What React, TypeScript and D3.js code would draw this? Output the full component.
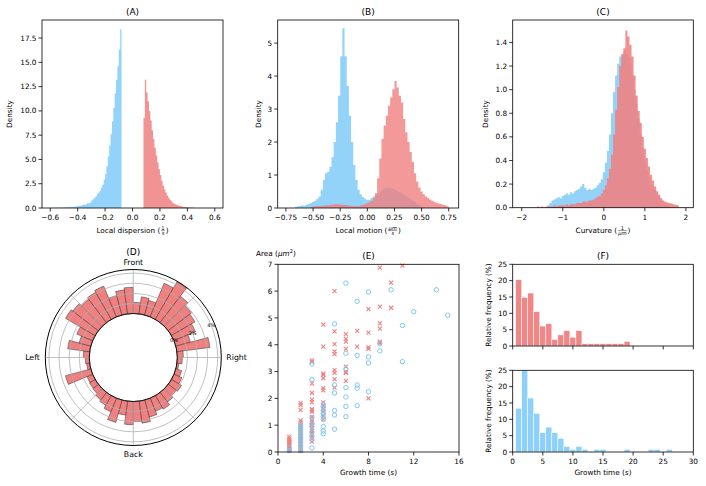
import React from "react";
import * as d3 from "d3";

const FONT = "'DejaVu Sans', sans-serif";
const RED = "#F08080";
const BLUE = "#87CEFA";
const FS = 7.3;

// ---------- Panel A : local dispersion ----------
const aBinWidth = 0.01;
const aBlueStart = -0.6;
const aBlue = [
  0.02, 0.0, 0.03, 0.02, 0.04, 0.03, 0.05, 0.04, 0.06, 0.05,
  0.07, 0.08, 0.07, 0.1, 0.09, 0.12, 0.11, 0.15, 0.14, 0.18,
  0.2, 0.24, 0.22, 0.3, 0.35, 0.33, 0.42, 0.48, 0.46, 0.58,
  0.8, 0.9, 1.05, 1.2, 1.45, 1.6, 1.8, 2.1, 2.4, 2.9,
  3.5, 4.3, 5.3, 6.4, 7.6, 8.9, 10.3, 11.8, 13.2, 14.6,
  16.3, 18.4,
];
const aRedStart = 0.08;
const aRed = [
  9.3, 13.2, 11.9, 11.0, 10.0, 9.0, 8.0, 7.1, 6.2, 5.4,
  4.7, 4.0, 3.4, 2.8, 2.3, 1.9, 1.6, 1.3, 1.05, 0.85,
  0.7, 0.55, 0.45, 0.38, 0.32, 0.26, 0.22, 0.18, 0.15, 0.12,
  0.1, 0.09, 0.07, 0.06, 0.05, 0.04, 0.03,
];
const aXTicks = [-0.6, -0.4, -0.2, 0, 0.2, 0.4, 0.6];
const aYTicks = [0, 2.5, 5, 7.5, 10, 12.5, 15, 17.5];

// ---------- Panel B : local motion ----------
const bBinWidth = 0.02;
const bBlueStart = -0.67;
const bBlue = [
  0.03, 0.05, 0.06, 0.08, 0.07, 0.1, 0.12, 0.15, 0.18, 0.22,
  0.28, 0.35, 0.55, 0.85, 1.05, 1.1, 1.25, 1.55, 2.0, 2.6,
  3.4, 4.6, 5.45, 4.6, 3.7, 2.8, 2.0, 1.3, 0.85, 0.55,
  0.42, 0.33, 0.28, 0.24, 0.25, 0.3, 0.35, 0.4, 0.45, 0.5,
  0.55, 0.6, 0.6, 0.62, 0.6, 0.58, 0.55, 0.5, 0.48, 0.45,
  0.4, 0.35, 0.32, 0.28, 0.22, 0.18, 0.12, 0.08, 0.05, 0.03,
];
const bRedStart = -0.53;
const bRed = [
  0.02, 0.04, 0.05, 0.05, 0.06, 0.06, 0.07, 0.08, 0.08, 0.1,
  0.1, 0.12, 0.12, 0.11, 0.1, 0.1, 0.09, 0.08, 0.07, 0.06,
  0.06, 0.05, 0.05, 0.08, 0.1, 0.12, 0.15, 0.18, 0.22, 0.3,
  0.45, 0.9, 1.5, 2.1, 2.5, 2.8, 3.1, 3.35, 3.6, 3.85,
  3.65, 3.4, 3.2, 2.7, 2.3, 2.0, 1.7, 1.4, 1.05, 0.8,
  0.62, 0.5, 0.42, 0.35, 0.3, 0.26, 0.22, 0.18, 0.15, 0.14,
  0.12, 0.1, 0.08, 0.05,
];
const bXTicks = [-0.75, -0.5, -0.25, 0, 0.25, 0.5, 0.75];
const bYTicks = [0, 1, 2, 3, 4, 5];

// ---------- Panel C : curvature ----------
const cBinWidth = 0.05;
const cBlueStart = -1.375;
const cBlue = [
  0.02, 0.04, 0.06, 0.07, 0.08, 0.09, 0.08, 0.1, 0.11, 0.12,
  0.11, 0.13, 0.12, 0.14, 0.15, 0.16, 0.18, 0.2, 0.17, 0.15,
  0.16, 0.15, 0.16, 0.17, 0.19, 0.21, 0.24, 0.3, 0.38, 0.48,
  0.62, 0.8, 0.98, 1.12, 1.22, 1.28, 1.3, 1.32, 1.3, 1.28,
  1.22, 1.12, 1.0, 0.88, 0.75, 0.62, 0.5, 0.4, 0.32, 0.26,
  0.2, 0.17, 0.15, 0.12, 0.09, 0.06, 0.04, 0.03, 0.02, 0.01,
];
const cRedStart = -1.625;
const cRed = [
  0.01, 0.0, 0.01, 0.0, 0.01, 0.01, 0.01, 0.01, 0.02, 0.01,
  0.02, 0.02, 0.02, 0.02, 0.03, 0.02, 0.03, 0.03, 0.03, 0.04,
  0.04, 0.04, 0.05, 0.05, 0.05, 0.06, 0.06, 0.07, 0.08, 0.09,
  0.1, 0.12, 0.15, 0.19, 0.25, 0.33, 0.45, 0.62, 0.83, 1.02,
  1.2, 1.3, 1.35, 1.5, 1.45, 1.38, 1.28, 1.12, 0.95, 0.82,
  0.72, 0.6, 0.5, 0.42, 0.35, 0.28, 0.23, 0.18, 0.14, 0.11,
  0.08, 0.06, 0.05, 0.045, 0.04, 0.035, 0.03, 0.025, 0.02,
];
const cXTicks = [-2, -1, 0, 1, 2];
const cYTicks = [0, 0.2, 0.4, 0.6, 0.8, 1.0, 1.2, 1.4];

// ---------- Panel D : direction (percent per 7.5° sector, clockwise from Front) ----------
const dSectorPercent = [
  1.1, 1.7, 1.5, 3.6, 4.3, 3.3, 2.9, 2.7, 2.3, 1.5, 3.3, 0.6,
  0.5, 0.2, 0.6, 0.85, 1.15, 1.0, 1.2, 1.55, 1.4, 1.75, 2.2, 2.0,
  2.3, 1.4, 2.3, 1.45, 1.1, 0.9, 0.7, 0.65, 0.6, 2.6, 0.3, 0.4,
  0.6, 2.2, 1.2, 1.7, 3.4, 3.2, 2.9, 3.1, 3.3, 2.0, 2.4, 2.6,
];
const dRingTicks = [0, 1, 2, 3, 4];
const dRingLabels = ["0%", "", "2%", "", "4%"];
const dDirections = ["Front", "Right", "Back", "Left"];

// ---------- Panel E : area vs growth time ----------
const eRed: [number, number][] = [
  [1, 0.05], [1, 0.1], [1, 0.15], [1, 0.2], [1, 0.25], [1, 0.3], [1, 0.35], [1, 0.4], [1, 0.45], [1, 0.5], [1, 0.57],
  [2, 0.05], [2, 0.12], [2, 0.2], [2, 0.28], [2, 0.35], [2, 0.42], [2, 0.5], [2, 0.58], [2, 0.65], [2, 0.72],
  [2, 0.8], [2, 0.88], [2, 0.95], [2, 1.02], [2, 1.1], [2, 1.18], [2, 1.57], [2, 1.75], [2, 1.82],
  [3, 0.38], [3, 0.5], [3, 0.6], [3, 0.7], [3, 0.8], [3, 0.9], [3, 1.0], [3, 1.1], [3, 1.2], [3, 1.3],
  [3, 1.5], [3, 1.55], [3, 1.6], [3, 1.85], [3, 1.95], [3, 2.2], [3, 2.55], [3, 3.35], [3, 3.42],
  [4, 1.22], [4, 1.35], [4, 1.5], [4, 1.62], [4, 1.72], [4, 1.85], [4, 2.3], [4, 2.38], [4, 2.75], [4, 2.88],
  [4, 2.92], [4, 3.93], [4, 4.75],
  [5, 2.4], [5, 2.72], [5, 2.95], [5, 3.05], [5, 3.65], [5, 3.75], [5, 4.02], [5, 4.5], [5, 6.0],
  [6, 2.65], [6, 2.95], [6, 3.0], [6, 3.18], [6, 3.85], [6, 4.12], [6, 4.22], [6, 4.4],
  [7, 3.93], [7, 4.52],
  [8, 2.0], [8, 3.85], [8, 3.9], [8, 4.45], [8, 5.33],
  [9, 4.05], [9, 4.12], [9, 4.6], [9, 4.8], [9, 5.42], [9, 6.88],
  [10, 5.38], [10, 6.32],
  [11, 6.95],
];
const eBlue: [number, number][] = [
  [1, 0.05], [1, 0.15],
  [2, 0.05], [2, 0.15], [2, 0.25], [2, 0.35], [2, 0.45], [2, 0.55], [2, 0.65], [2, 0.75], [2, 0.85], [2, 0.92], [2, 1.0],
  [3, 0.15], [3, 0.45], [3, 0.6], [3, 0.75], [3, 0.95], [3, 1.05], [3, 1.28], [3, 2.7], [3, 3.28],
  [4, 0.68], [4, 0.78], [4, 0.95], [4, 1.22], [4, 1.32], [4, 1.45], [4, 1.55], [4, 1.68], [4, 1.78],
  [5, 0.85], [5, 1.38], [5, 1.55], [5, 2.2], [5, 2.5], [5, 4.78],
  [6, 1.32], [6, 1.7], [6, 2.05], [6, 2.4], [6, 3.1], [6, 3.68], [6, 6.3],
  [7, 1.73], [7, 2.38], [7, 2.5], [7, 3.6], [7, 5.62],
  [8, 2.25], [8, 3.32], [8, 3.55], [8, 5.97],
  [9, 3.77], [9, 4.05],
  [10, 6.05],
  [11, 3.37], [11, 4.72],
  [12, 5.23],
  [14, 6.05],
  [15, 5.1],
];
const eXTicks = [0, 4, 8, 12, 16];
const eYTicks = [0, 1, 2, 3, 4, 5, 6, 7];

// ---------- Panel F : growth time distributions ----------
const fBinStart = 0.5;
const fBinWidth = 1;
const fRed = [20.3, 14.9, 16.2, 10.5, 6.1, 6.8, 2.0, 3.4, 4.7, 2.7, 4.7, 0.7, 0.7, 0.7, 0.7, 0.7, 0.7, 0.7, 1.4];
const fBlue = [13.4, 25.0, 16.5, 11.8, 5.9, 7.6, 5.9, 4.2, 1.7, 0.8, 1.7, 0.8, 0, 0.8, 0.8, 0, 0, 0, 0.8, 0, 0, 0, 0.8, 0.8, 0, 0.8];
const fXTicks = [0, 5, 10, 15, 20, 25, 30];
const fYTicks = [0, 5, 10, 15, 20, 25];

// ---------- helpers ----------
let _ctx: CanvasRenderingContext2D | null = null;
function textW(s: string, size: number, italic = false) {
  if (!_ctx && typeof document !== "undefined") _ctx = document.createElement("canvas").getContext("2d");
  if (!_ctx) return s.length * size * 0.6;
  _ctx.font = `${italic ? "italic " : ""}${size}px 'DejaVu Sans'`;
  return _ctx.measureText(s).width;
}

type Scale = d3.ScaleLinear<number, number>;

function Axes({ x, y, xTicks, yTicks, fx, fy, xLabels = true }: any) {
  const [x0, x1] = (x as Scale).range();
  const [yb, yt] = (y as Scale).range();
  return (
    <g fontFamily={FONT} fontSize={FS} fill="#000">
      {xTicks.map((t: number) => (
        <g key={"x" + t}>
          <line x1={x(t)} x2={x(t)} y1={yb} y2={yb + 3.5} stroke="#000" strokeWidth={0.8} />
          {xLabels && (
            <text x={x(t)} y={yb + 12.3} textAnchor="middle">{fx(t)}</text>
          )}
        </g>
      ))}
      {yTicks.map((t: number) => (
        <g key={"y" + t}>
          <line x1={x0 - 3.5} x2={x0} y1={y(t)} y2={y(t)} stroke="#000" strokeWidth={0.8} />
          <text x={x0 - 5.5} y={y(t) + 2.6} textAnchor="end">{fy(t)}</text>
        </g>
      ))}
      <rect x={x0} y={yt} width={x1 - x0} height={yb - yt} fill="none" stroke="#000" strokeWidth={0.8} />
    </g>
  );
}

function HistPath({ values, start, width, x, y, fill, opacity }: any) {
  let d = "";
  values.forEach((v: number, i: number) => {
    if (v <= 0) return;
    const xa = x(start + i * width);
    const xb = x(start + (i + 1) * width);
    const ya = y(v);
    const yb = y(0);
    d += `M${xa},${yb}V${ya}H${xb}V${yb}Z`;
  });
  return <path d={d} fill={fill} fillOpacity={opacity} />;
}

function FracLabel({ cx, y, prefix, num, den, numItalic = false, denItalic = true }: any) {
  const small = 5.2;
  const w1 = textW(prefix + "(", FS);
  const wn = textW(num, small, numItalic);
  const wd = textW(den, small, denItalic);
  const wf = Math.max(wn, wd) + 2.2;
  const w3 = textW(")", FS);
  const x0 = cx - (w1 + wf + w3) / 2;
  const fc = x0 + w1 + wf / 2;
  return (
    <g fontFamily={FONT} fill="#000">
      <text x={x0} y={y} fontSize={FS}>{prefix + "("}</text>
      <text x={fc} y={y - 3.4} fontSize={small} textAnchor="middle" fontStyle={numItalic ? "italic" : "normal"}>{num}</text>
      <line x1={x0 + w1 + 0.8} x2={x0 + w1 + wf - 0.8} y1={y - 2.4} y2={y - 2.4} stroke="#000" strokeWidth={0.4} />
      <text x={fc} y={y + 2.4} fontSize={small} textAnchor="middle" fontStyle={denItalic ? "italic" : "normal"}>{den}</text>
      <text x={x0 + w1 + wf} y={y} fontSize={FS}>)</text>
    </g>
  );
}

function Title({ x, y, t }: any) {
  return <text x={x} y={y} fontFamily={FONT} fontSize={9} textAnchor="middle">{t}</text>;
}

function YLabel({ x, y, t }: any) {
  return (
    <text transform={`translate(${x},${y}) rotate(-90)`} fontFamily={FONT} fontSize={FS} textAnchor="middle">{t}</text>
  );
}

export default function App() {
  const f1 = d3.format(".1f");
  const f2 = d3.format(".2f");
  const fd = d3.format("d");

  // scales
  const ax = d3.scaleLinear().domain([-0.66, 0.66]).range([42, 223]);
  const ay = d3.scaleLinear().domain([0, 19.36]).range([208, 20]);
  const bx = d3.scaleLinear().domain([-0.826, 0.842]).range([277.7, 458.7]);
  const by = d3.scaleLinear().domain([0, 5.7]).range([208, 20]);
  const cx = d3.scaleLinear().domain([-2.22, 2.18]).range([512.7, 693.3]);
  const cy = d3.scaleLinear().domain([0, 1.59]).range([207.7, 20]);
  const ex = d3.scaleLinear().domain([0, 16]).range([278, 459]);
  const ey = d3.scaleLinear().domain([0, 7]).range([452, 264.3]);
  const fx = d3.scaleLinear().domain([0, 30]).range([512.7, 693.3]);
  const fyTop = d3.scaleLinear().domain([0, 25]).range([346, 264.3]);
  const fyBot = d3.scaleLinear().domain([0, 25]).range([452, 370.3]);

  // polar
  const pcx = 133.3, pcy = 357.5;
  const r = d3.scaleLinear().domain([0, 4.36]).range([44, 88]);
  const step = (2 * Math.PI) / dSectorPercent.length;
  const arc = d3.arc<any>();

  return (
    <svg width={706} height={486} style={{ position: "absolute", left: 0, top: 0, background: "#fff" }}>
      <rect width={706} height={486} fill="#fff" />
      <defs>
        <clipPath id="clipA"><rect x={42} y={20} width={181} height={188} /></clipPath>
        <clipPath id="clipB"><rect x={277.7} y={20} width={181} height={188} /></clipPath>
        <clipPath id="clipC"><rect x={512.7} y={20} width={180.6} height={187.7} /></clipPath>
      </defs>

      {/* Panel A */}
      <g clipPath="url(#clipA)">
        <HistPath values={aBlue} start={aBlueStart} width={aBinWidth} x={ax} y={ay} fill={BLUE} opacity={0.9} />
        <HistPath values={aRed} start={aRedStart} width={aBinWidth} x={ax} y={ay} fill={RED} opacity={0.85} />
      </g>
      <Axes x={ax} y={ay} xTicks={aXTicks} yTicks={aYTicks} fx={f1} fy={f1} />
      <Title x={132.5} y={14.5} t="(A)" />
      <YLabel x={12.3} y={114} t="Density" />
      <FracLabel cx={132.5} y={233} prefix="Local dispersion " num="1" den="s" />

      {/* Panel B */}
      <g clipPath="url(#clipB)">
        <HistPath values={bBlue} start={bBlueStart} width={bBinWidth} x={bx} y={by} fill={BLUE} opacity={0.9} />
        <HistPath values={bRed} start={bRedStart} width={bBinWidth} x={bx} y={by} fill={RED} opacity={0.8} />
      </g>
      <Axes x={bx} y={by} xTicks={bXTicks} yTicks={bYTicks} fx={f2} fy={fd} />
      <Title x={368.2} y={14.5} t="(B)" />
      <YLabel x={261.3} y={114} t="Density" />
      <FracLabel cx={368.2} y={233} prefix="Local motion " num="μm" den="s" numItalic={true} />

      {/* Panel C */}
      <g clipPath="url(#clipC)">
        <HistPath values={cBlue} start={cBlueStart} width={cBinWidth} x={cx} y={cy} fill={BLUE} opacity={0.9} />
        <HistPath values={cRed} start={cRedStart} width={cBinWidth} x={cx} y={cy} fill={RED} opacity={0.88} />
      </g>
      <Axes x={cx} y={cy} xTicks={cXTicks} yTicks={cYTicks} fx={fd} fy={f1} />
      <Title x={603} y={14.5} t="(C)" />
      <YLabel x={488} y={114} t="Density" />
      <FracLabel cx={603} y={233} prefix="Curvature " num="1" den="μm" />

      {/* Panel D polar */}
      <g transform={`translate(${pcx},${pcy})`}>
        {dSectorPercent.map((v, i) => (
          <path
            key={i}
            d={arc({ innerRadius: r(0), outerRadius: r(v), startAngle: i * step, endAngle: (i + 1) * step }) as string}
            fill={RED}
            stroke="#333"
            strokeWidth={0.5}
          />
        ))}
        {dRingTicks.slice(1).map((t) => (
          <circle key={t} r={r(t)} fill="none" stroke="#b0b0b0" strokeWidth={0.8} />
        ))}
        {d3.range(8).map((k) => {
          const a = (k * Math.PI) / 4;
          return (
            <line
              key={k}
              x1={r(0) * Math.sin(a)}
              y1={-r(0) * Math.cos(a)}
              x2={r(4.36) * Math.sin(a)}
              y2={-r(4.36) * Math.cos(a)}
              stroke="#b0b0b0"
              strokeWidth={0.8}
            />
          );
        })}
        <circle r={r(0)} fill="none" stroke="#000" strokeWidth={0.9} />
        <circle r={r(4.36)} fill="none" stroke="#000" strokeWidth={1} />
        {dRingTicks.map((t, i) =>
          dRingLabels[i] ? (
            <text
              key={t}
              x={r(t) * Math.sin((67.5 * Math.PI) / 180)}
              y={-r(t) * Math.cos((67.5 * Math.PI) / 180) + 1.8}
              fontFamily={FONT}
              fontSize={5}
              textAnchor="middle"
            >
              {dRingLabels[i]}
            </text>
          ) : null
        )}
        <text x={0} y={-r(4.36) - 4.5} fontFamily={FONT} fontSize={7.8} textAnchor="middle">{dDirections[0]}</text>
        <text x={r(4.36) + 5} y={2.8} fontFamily={FONT} fontSize={7.8} textAnchor="start">{dDirections[1]}</text>
        <text x={0} y={r(4.36) + 11.5} fontFamily={FONT} fontSize={7.8} textAnchor="middle">{dDirections[2]}</text>
        <text x={-r(4.36) - 5.5} y={2.8} fontFamily={FONT} fontSize={7.8} textAnchor="end">{dDirections[3]}</text>
      </g>
      <Title x={133.3} y={255} t="(D)" />

      {/* Panel E scatter */}
      <g>
        {eRed.map(([t, a], i) => {
          const px = ex(t), py = ey(a), s = 2.0;
          return (
            <path key={"r" + i} d={`M${px - s},${py - s}L${px + s},${py + s}M${px - s},${py + s}L${px + s},${py - s}`} stroke={RED} strokeWidth={1.1} fill="none" />
          );
        })}
        {eBlue.map(([t, a], i) => (
          <circle key={"b" + i} cx={ex(t)} cy={ey(a)} r={2.2} fill="none" stroke="#7cc8f4" strokeWidth={1} />
        ))}
      </g>
      <Axes x={ex} y={ey} xTicks={eXTicks} yTicks={eYTicks} fx={fd} fy={fd} />
      <Title x={368.5} y={259} t="(E)" />
      <text x={256} y={256} fontFamily={FONT} fontSize={FS}>
        Area (<tspan fontStyle="italic">μm</tspan>
        <tspan fontSize={5} dy={-3}>2</tspan>
        <tspan dy={3}>)</tspan>
      </text>
      <text x={368.5} y={475} fontFamily={FONT} fontSize={FS} textAnchor="middle">
        Growth time (<tspan fontStyle="italic">s</tspan>)
      </text>

      {/* Panel F */}
      <g>
        {fRed.map((v, i) =>
          v > 0 ? (
            <rect key={"fr" + i} x={fx(fBinStart + i * fBinWidth)} width={fx(fBinStart + (i + 1) * fBinWidth) - fx(fBinStart + i * fBinWidth)}
              y={fyTop(v)} height={fyTop(0) - fyTop(v)} fill={RED} fillOpacity={0.95} stroke="#fff" strokeWidth={0.5} />
          ) : null
        )}
        {fBlue.map((v, i) =>
          v > 0 ? (
            <rect key={"fb" + i} x={fx(fBinStart + i * fBinWidth)} width={fx(fBinStart + (i + 1) * fBinWidth) - fx(fBinStart + i * fBinWidth)}
              y={fyBot(v)} height={fyBot(0) - fyBot(v)} fill={BLUE} fillOpacity={0.95} stroke="#fff" strokeWidth={0.5} />
          ) : null
        )}
      </g>
      <Axes x={fx} y={fyTop} xTicks={fXTicks} yTicks={fYTicks} fx={fd} fy={fd} xLabels={false} />
      <Axes x={fx} y={fyBot} xTicks={fXTicks} yTicks={fYTicks} fx={fd} fy={fd} />
      <Title x={603} y={259} t="(F)" />
      <YLabel x={490.5} y={305} t="Relative frequency (%)" />
      <YLabel x={490.5} y={411} t="Relative frequency (%)" />
      <text x={603} y={475} fontFamily={FONT} fontSize={FS} textAnchor="middle">
        Growth time (<tspan fontStyle="italic">s</tspan>)
      </text>
    </svg>
  );
}
